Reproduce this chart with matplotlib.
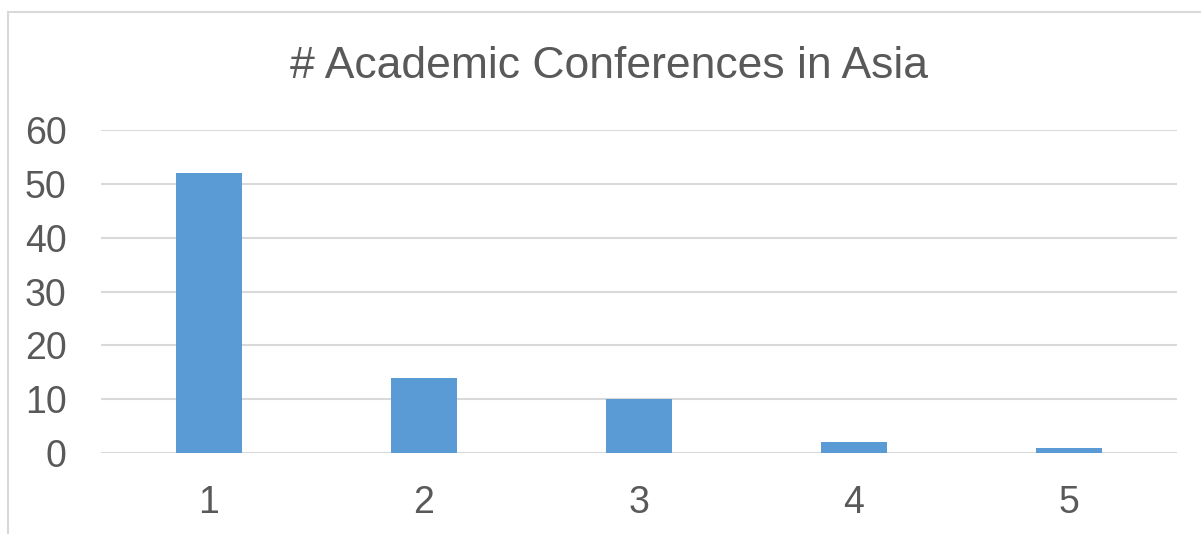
import matplotlib.pyplot as plt
from matplotlib.patches import Rectangle

# data
categories = ["1", "2", "3", "4", "5"]
counts = [52, 14, 10, 2, 1]
yticks = [0, 10, 20, 30, 40, 50, 60]

plt.rcParams['font.family'] = ['Liberation Sans', 'DejaVu Sans']
txt = "#595959"
grid = "#D9D9D9"

W, H = 1201, 534
fig = plt.figure(figsize=(W / 100, H / 100), dpi=100)
ax = fig.add_axes([101.5 / W, 81 / H, 1075 / W, 323 / H])

x = range(len(categories))
ax.bar(x, counts, width=0.31, color="#5B9BD5", zorder=3)

ax.set_xlim(-0.5, len(categories) - 0.5)
ax.set_ylim(0, 60)
ax.set_yticks(yticks)
ax.set_xticks(list(x))
ax.set_xticklabels(categories)
ax.yaxis.grid(True, color=grid, linewidth=1.5, zorder=0)
for s in ax.spines.values():
    s.set_visible(False)
ax.tick_params(axis="both", length=0, labelsize=27, colors=txt)
ax.tick_params(axis="y", pad=25)
ax.tick_params(axis="x", pad=23)

fig.text(609 / W, 1 - 67 / H, "# Academic Conferences in Asia",
         ha="center", va="center", fontsize=32, color=txt)

# chart border (cropped on right and bottom)
fig.patches.append(Rectangle((8 / W, -0.1), 1.2, (H - 12) / H + 0.1,
                             transform=fig.transFigure, fill=False,
                             edgecolor=grid, linewidth=1.5))

fig.savefig("out.png", dpi=100)
